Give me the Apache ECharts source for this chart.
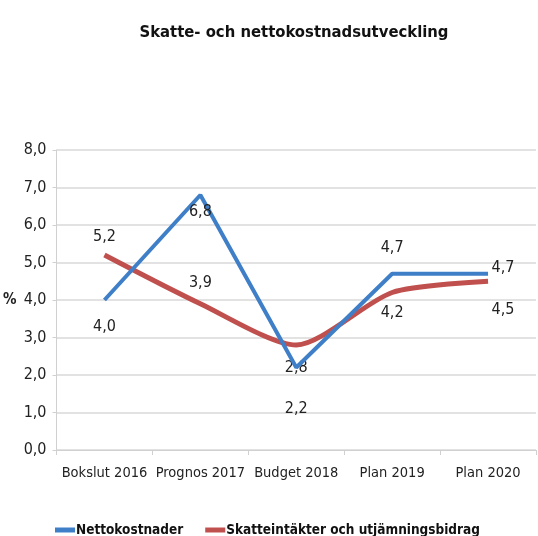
<!DOCTYPE html>
<html>
<head>
<meta charset="utf-8">
<script src="https://cdn.jsdelivr.net/npm/echarts@6/dist/echarts.min.js"></script>
<style>
  html,body{margin:0;padding:0;background:#fff;}
  #chart{width:538px;height:536px;}
</style>
</head>
<body>
<div id="chart"></div>
<script>
  var categories = ['Bokslut 2016','Prognos 2017','Budget 2018','Plan 2019','Plan 2020'];
  var netto = [4.0, 6.8, 2.2, 4.7, 4.7];
  var skatt = [5.2, 3.9, 2.8, 4.2, 4.5];
  var seriesNames = ['Nettokostnader','Skatteintäkter och utjämningsbidrag'];

  // label placement relative to the point (mimics the Excel layout)
  var nettoLabelPos = [[0,27],[0,17],[0,41],[0,-26],[15,-6]];
  var skattLabelPos = [[0,-18],[0,-21],[0,23],[0,20],[15,29]];

  var font = '"DejaVu Sans Condensed","Liberation Sans Narrow",sans-serif';
  var fmt = function(v){ return v.toFixed(1).replace('.', ','); };

  function withLabels(values, pos){
    return values.map(function(v,i){
      return {
        value: v,
        label: {
          show:true, position:pos[i], align:'center', verticalAlign:'middle',
          formatter: function(p){ return fmt(p.value); }
        }
      };
    });
  }

  var myChart = echarts.init(document.getElementById('chart'));
  var option = {
    animation:false,
    title:{
      text:'Skatte- och nettokostnadsutveckling',
      left:289, top:19, textAlign:'center',
      textStyle:{fontFamily:font, fontSize:16.5, fontWeight:'bold', color:'#111'}
    },
    grid:{left:56, right:2, top:150, bottom:86},
    legend:{
      left:50, top:518, width:488,
      itemWidth:20, itemHeight:5, itemGap:22,
      icon:'rect',
      textStyle:{fontFamily:font, fontSize:13.5, fontWeight:'bold', color:'#111', padding:[0,0,0,-4]},
      data:seriesNames
    },
    xAxis:{
      type:'category',
      data:categories,
      boundaryGap:true,
      axisLine:{lineStyle:{color:'#d0d0d0'}},
      axisTick:{show:true, length:5, lineStyle:{color:'#d0d0d0'}},
      axisLabel:{fontFamily:font, fontSize:14.5, color:'#222', margin:16, interval:0}
    },
    yAxis:{
      type:'value',
      min:0, max:8, interval:1,
      name:'%', nameLocation:'middle', nameRotate:0, nameGap:40,
      nameTextStyle:{fontFamily:font, fontSize:15, color:'#222', fontWeight:'bold'},
      axisLine:{show:true, lineStyle:{color:'#d0d0d0'}},
      axisTick:{show:true, length:4, lineStyle:{color:'#d0d0d0'}},
      splitLine:{lineStyle:{color:'#d9d9d9', width:1.5}},
      axisLabel:{fontFamily:font, fontSize:16, color:'#222', margin:10, formatter:function(v){ return fmt(v); }}
    },
    series:[
      {
        name:seriesNames[0], type:'line',
        data:withLabels(netto, nettoLabelPos),
        symbol:'circle', symbolSize:0, showSymbol:true,
        itemStyle:{color:'#3f7fc8'},
        lineStyle:{width:4, color:'#3f7fc8'},
        label:{fontFamily:font, fontSize:16, color:'#222'},
        labelLayout:{hideOverlap:false},
        z:3
      },
      {
        name:seriesNames[1], type:'line',
        data:withLabels(skatt, skattLabelPos),
        symbol:'circle', symbolSize:0, showSymbol:true,
        itemStyle:{color:'#c0504d'},
        smooth:0.25,
        lineStyle:{width:5, color:'#c0504d'},
        label:{fontFamily:font, fontSize:16, color:'#222'},
        labelLayout:{hideOverlap:false},
        z:2
      }
    ]
  };
  myChart.setOption(option);
</script>
</body>
</html>
